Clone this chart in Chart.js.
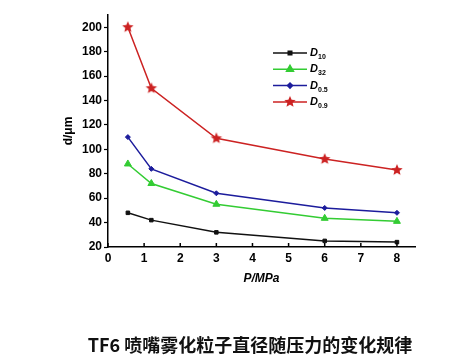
<!DOCTYPE html>
<html>
<head>
<meta charset="utf-8">
<script src="https://cdn.jsdelivr.net/npm/chart.js@4/dist/chart.umd.min.js"></script>
<style>
html,body{margin:0;padding:0;background:#fff;}
#wrap{position:relative;width:457px;height:358px;}
#caption{position:absolute;left:0;width:500px;top:331px;text-align:center;
 font-family:"Noto Sans CJK SC",sans-serif;font-size:18px;font-weight:bold;color:#111;}
</style>
</head>
<body>
<div id="wrap">
<canvas id="c" width="457" height="358"></canvas>
<div id="caption">TF6 喷嘴雾化粒子直径随压力的变化规律</div>
</div>
<script>
const pressures = [0.55, 1.2, 3, 6, 8];
const d10 = [48, 42, 32, 25, 24];
const d32 = [88, 72, 55, 43.5, 41];
const d05 = [110, 84, 64, 52, 48];
const d09 = [200, 150, 109, 92, 83];
const seriesSubs = ['10', '32', '0.5', '0.9'];
const xTicks = [0, 1, 2, 3, 4, 5, 6, 7, 8];
const yTicks = [20, 40, 60, 80, 100, 120, 140, 160, 180, 200];

const toXY = arr => arr.map((v, i) => ({x: pressures[i], y: v}));

function starCanvas(color, r) {
  const c = document.createElement('canvas');
  const s = Math.ceil(r * 2 + 2);
  c.width = s; c.height = s;
  const g = c.getContext('2d');
  g.fillStyle = color;
  g.beginPath();
  for (let k = 0; k < 10; k++) {
    const rad = k % 2 === 0 ? r : r * 0.45;
    const a = -Math.PI / 2 + k * Math.PI / 5;
    const px = s / 2 + rad * Math.cos(a), py = s / 2 + rad * Math.sin(a);
    k === 0 ? g.moveTo(px, py) : g.lineTo(px, py);
  }
  g.closePath(); g.fill();
  return c;
}
const redStar = starCanvas('#cc2222', 6);

const legendPlugin = {
  id: 'inLegend',
  afterDatasetsDraw(chart) {
    const ctx = chart.ctx;
    const x0 = 273, x1 = 307, yStart = 53, gap = 16.3;
    chart.data.datasets.forEach((ds, i) => {
      const y = yStart + i * gap;
      ctx.save();
      ctx.strokeStyle = ds.borderColor;
      ctx.lineWidth = 1.5;
      ctx.beginPath(); ctx.moveTo(x0, y); ctx.lineTo(x1, y); ctx.stroke();
      ctx.fillStyle = ds.borderColor;
      Chart.helpers.drawPoint(ctx, {
        pointStyle: ds.pointStyle, radius: ds.pointRadius, borderWidth: 1,
        rotation: 0
      }, (x0 + x1) / 2, y);
      ctx.fillStyle = '#000';
      ctx.textBaseline = 'middle';
      ctx.font = 'italic bold 11px "Liberation Sans", Arial, sans-serif';
      ctx.fillText('D', x1 + 3, y);
      ctx.font = 'bold 7px "Liberation Sans", Arial, sans-serif';
      ctx.fillText(seriesSubs[i], x1 + 11, y + 4);
      ctx.restore();
    });
  }
};

const xTickPlugin = {
  id: 'xInTicks',
  afterDraw(chart) {
    const sx = chart.scales.x, ctx = chart.ctx;
    const yb = chart.chartArea.bottom;
    ctx.save();
    ctx.strokeStyle = '#000'; ctx.lineWidth = 1.5;
    xTicks.forEach(t => {
      const px = sx.getPixelForValue(t);
      ctx.beginPath(); ctx.moveTo(px, yb); ctx.lineTo(px, yb - 4); ctx.stroke();
    });
    ctx.restore();
  }
};

const mkDs = (label, data, color, style, r) => ({
  label, data: toXY(data), borderColor: color, backgroundColor: color,
  pointBackgroundColor: color, pointBorderColor: color, borderWidth: 1.5,
  pointStyle: style, pointRadius: r, pointBorderWidth: 1, tension: 0
});

new Chart(document.getElementById('c'), {
  type: 'line',
  data: {
    datasets: [
      mkDs('D10', d10, '#111111', 'rect', 2.5),
      mkDs('D32', d32, '#33cc33', 'triangle', 4),
      mkDs('D0.5', d05, '#1c1c9c', 'rectRot', 2.5),
      mkDs('D0.9', d09, '#cc2222', redStar, 5)
    ]
  },
  options: {
    responsive: false,
    animation: false,
    layout: {padding: {top: 15, right: 42, left: 0, bottom: 70}},
    plugins: {legend: {display: false}, tooltip: {enabled: false}},
    scales: {
      x: {
        type: 'linear', min: 0, max: 8.5,
        afterFit: s => { s.height = 41; },
        afterBuildTicks: s => { s.ticks = xTicks.map(v => ({value: v})); },
        grid: {display: false, drawTicks: false},
        border: {display: true, color: '#000', width: 1.5},
        ticks: {padding: 4, color: '#000', font: {family: '"Liberation Sans", Arial', size: 12, weight: 'bold'}},
        title: {display: true, text: 'P/MPa', color: '#000',
          font: {family: '"Liberation Sans", Arial', size: 12, weight: 'bold', style: 'italic'},
          padding: {top: 0, bottom: 2}}
      },
      y: {
        type: 'linear', min: 20, max: 210,
        afterFit: s => { s.width = 108; },
        afterBuildTicks: s => {
          const t = [];
          for (let v = 20; v <= 210; v += 10) t.push({value: v});
          s.ticks = t;
        },
        grid: {drawOnChartArea: false, drawTicks: true, tickLength: 4, color: '#000', tickWidth: 1.2},
        border: {display: true, color: '#000', width: 1.5},
        ticks: {padding: 2, color: '#000',
          font: {family: '"Liberation Sans", Arial', size: 12, weight: 'bold'},
          callback: v => yTicks.includes(v) ? String(v) : ''},
        title: {display: true, text: 'd/μm', color: '#000',
          font: {family: '"Liberation Sans", Arial', size: 12, weight: 'bold'},
          padding: {top: 61, bottom: 0}}
      }
    }
  },
  plugins: [legendPlugin, xTickPlugin]
});
</script>
</body>
</html>
